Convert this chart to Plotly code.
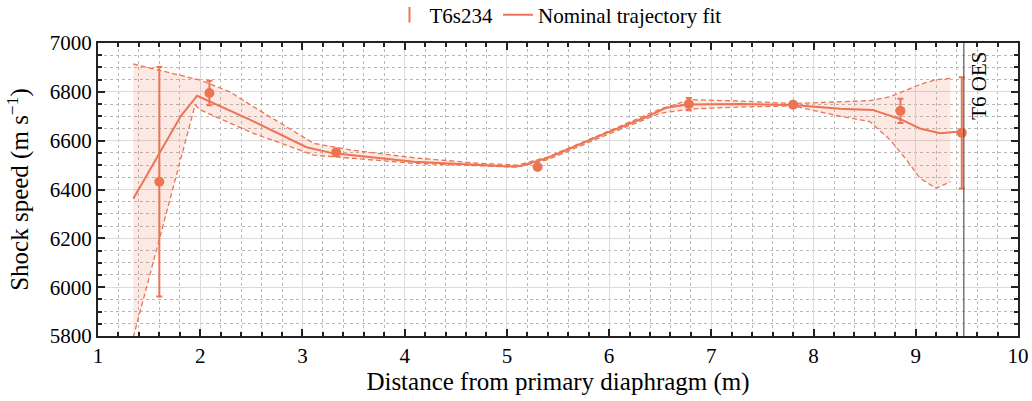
import plotly.graph_objects as go

# Measured shock speeds (T6s234)
pt_x = [1.60, 2.09, 3.33, 5.30, 6.78, 7.80, 8.85, 9.45]
pt_y = [6432, 6795, 6552, 6492, 6750, 6747, 6722, 6632]
pt_err = [470, 50, 15, 6, 25, 8, 50, 228]

# Nominal trajectory fit
fit_x = [1.345, 1.81, 1.97, 2.49, 3.04, 3.30, 3.47, 4.09, 5.06, 5.13, 5.26, 5.39,
         5.98, 6.17, 6.37, 6.56, 6.76, 7.30, 7.80, 8.26, 8.58, 8.85, 9.04, 9.24, 9.44]
fit_y = [6362, 6701, 6784, 6685, 6573, 6548, 6541, 6514, 6494, 6496, 6512, 6528,
         6633, 6664, 6698, 6735, 6748, 6750, 6746, 6731, 6726, 6688, 6650, 6630, 6638]

# Uncertainty band
band_x = [1.345, 1.95, 2.00, 2.29, 2.52, 3.11, 3.47, 4.09, 4.74, 5.10, 5.40, 6.00,
          6.50, 6.80, 7.30, 7.80, 8.26, 8.55, 8.75, 8.91, 9.04, 9.20, 9.34]
band_upper = [6914, 6853, 6848, 6800, 6739, 6589, 6562, 6530, 6507, 6500, 6533, 6640,
              6730, 6768, 6762, 6752, 6760, 6764, 6780, 6807, 6830, 6850, 6855]
band_lower = [5795, 6746, 6726, 6672, 6630, 6541, 6528, 6507, 6497, 6492, 6522, 6628,
              6712, 6730, 6738, 6742, 6700, 6678, 6603, 6521, 6446, 6405, 6432]

oes_x = 9.47
oes_label = "T6 OES"

C = "#EC7453"
FONT = "Liberation Serif"

fig = go.Figure()

fig.add_trace(go.Scatter(x=band_x, y=band_lower, mode="lines",
                         line=dict(color=C, width=1.3, dash="5px,3px"),
                         showlegend=False, hoverinfo="skip"))
fig.add_trace(go.Scatter(x=band_x, y=band_upper, mode="lines", fill="tonexty",
                         fillcolor="rgba(238,118,88,0.16)",
                         line=dict(color=C, width=1.3, dash="5px,3px"),
                         showlegend=False, hoverinfo="skip"))

fig.add_trace(go.Scatter(x=fit_x, y=fit_y, mode="lines",
                         line=dict(color=C, width=2),
                         name="Nominal trajectory fit", legendrank=2))

fig.add_trace(go.Scatter(x=pt_x, y=pt_y, mode="markers",
                         marker=dict(color=C, size=10),
                         error_y=dict(type="data", array=pt_err, color=C,
                                      thickness=2, width=3),
                         showlegend=False))
fig.add_trace(go.Scatter(x=[None], y=[None], mode="markers",
                         marker=dict(color=C, symbol="line-ns-open", size=11,
                                     line=dict(color=C, width=2)),
                         name="T6s234", legendrank=1))

fig.add_shape(type="line", x0=oes_x, x1=oes_x, y0=0, y1=1, yref="paper",
              line=dict(color="#555555", width=1.2))
fig.add_annotation(x=oes_x, y=1, yref="paper", text=oes_label, textangle=-90,
                   showarrow=False, xanchor="left", yanchor="top", xshift=1, yshift=-7,
                   font=dict(family=FONT, size=21, color="black"))

axis_common = dict(
    showline=True, linecolor="#222222", linewidth=2, mirror="ticks",
    ticks="inside", ticklen=7, tickwidth=1.5, tickcolor="#222222",
    showgrid=True, gridcolor="#dcdcdc", gridwidth=1.3,
    zeroline=False,
    tickfont=dict(family=FONT, size=21, color="black"),
)

fig.update_xaxes(**axis_common, range=[1, 10], dtick=1,
                 minor=dict(dtick=0.2, ticks="inside", ticklen=4, tickcolor="#222222",
                            showgrid=True, gridcolor="#b8b8b8", griddash="dot", gridwidth=1),
                 title=dict(text="Distance from primary diaphragm (m)",
                            font=dict(family=FONT, size=25, color="black"), standoff=3))
fig.update_yaxes(**axis_common, range=[5800, 7000], dtick=200,
                 minor=dict(dtick=50, ticks="inside", ticklen=4, tickcolor="#222222",
                            showgrid=True, gridcolor="#b8b8b8", griddash="dot", gridwidth=1),
                 title=dict(text="Shock speed (m s<sup>−1</sup>)",
                            font=dict(family=FONT, size=25, color="black"), standoff=14))

fig.update_layout(
    width=1032, height=401,
    margin=dict(l=98, r=14, t=43, b=65, autoexpand=False),
    plot_bgcolor="white", paper_bgcolor="white",
    font=dict(family=FONT, color="black", size=21),
    legend=dict(orientation="h", x=0.5, xanchor="center", y=1.165, yanchor="top",
                font=dict(family=FONT, size=21), bgcolor="rgba(0,0,0,0)",
                itemwidth=30, traceorder="normal"),
)

fig.write_html("out.html")
